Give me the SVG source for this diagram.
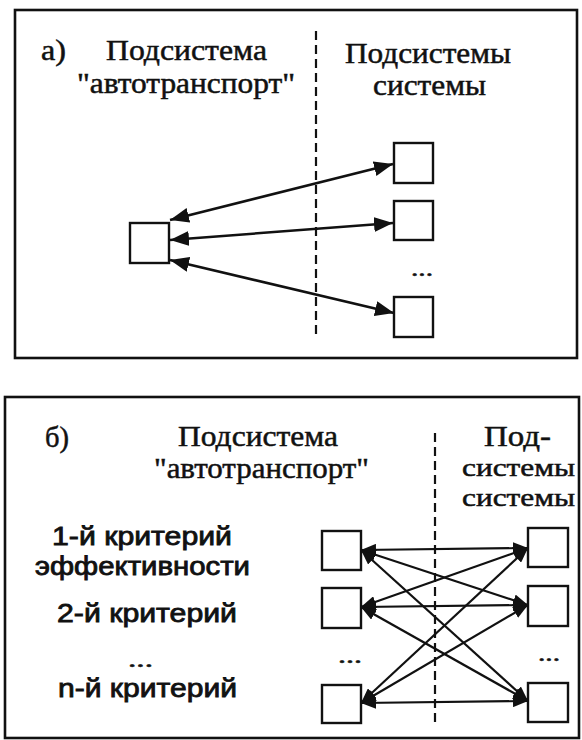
<svg xmlns="http://www.w3.org/2000/svg" width="582" height="740" viewBox="0 0 582 740">
<style>
.frame{fill:none;stroke:#111;stroke-width:2.6}
.box{fill:#fff;stroke:#111;stroke-width:2.4}
.dash{stroke:#111;stroke-width:2.2;stroke-dasharray:9 5;fill:none}
.ser{font-family:"Liberation Serif","DejaVu Serif",serif;font-size:29px;fill:#111;stroke:#111;stroke-width:0.5}
.ser2{font-family:"Liberation Serif","DejaVu Serif",serif;font-size:25px;fill:#111;stroke:#111;stroke-width:0.5}
.sans{font-family:"Liberation Sans","DejaVu Sans",sans-serif;font-size:25px;fill:#111;stroke:#111;stroke-width:0.8}
.a1{stroke:#111;stroke-width:2.5;fill:none;marker-start:url(#hA);marker-end:url(#hA)}
.a2{stroke:#111;stroke-width:2.2;fill:none;marker-start:url(#hB);marker-end:url(#hB)}
.dots{font-family:"Liberation Serif",serif;font-size:24px;fill:#111;stroke:#111;stroke-width:0.6}
</style>
<defs>
<marker id="hA" viewBox="0 0 19 15" refX="19" refY="7.5" markerWidth="19" markerHeight="15" markerUnits="userSpaceOnUse" orient="auto-start-reverse"><path d="M0,0 L19,7.5 L0,15 z" fill="#111"/></marker>
<marker id="hB" viewBox="0 0 15 12" refX="15" refY="6" markerWidth="15" markerHeight="12" markerUnits="userSpaceOnUse" orient="auto-start-reverse"><path d="M0,0 L15,6 L0,12 z" fill="#111"/></marker>
</defs>
<rect width="582" height="740" fill="#fff"/>

<g id="panel-a">
<rect class="frame" x="15" y="10" width="562" height="348"/>
<line class="dash" x1="316" y1="31" x2="316" y2="336"/>
<text class="ser" x="41" y="60" textLength="25" lengthAdjust="spacingAndGlyphs">а)</text>
<text class="ser" x="106" y="60" textLength="161" lengthAdjust="spacingAndGlyphs">Подсистема</text>
<text class="ser" x="77" y="93" textLength="218" lengthAdjust="spacingAndGlyphs">"автотранспорт"</text>
<text class="ser" x="345" y="63" textLength="166" lengthAdjust="spacingAndGlyphs">Подсистемы</text>
<text class="ser" x="373" y="95" textLength="113" lengthAdjust="spacingAndGlyphs">системы</text>
</g>

<g id="a-left"><rect class="box" x="130" y="223" width="39" height="40"/></g>
<g id="a-right1"><rect class="box" x="394" y="143" width="39" height="40"/></g>
<g id="a-right2"><rect class="box" x="394" y="201" width="39" height="39"/></g>
<g id="a-right3"><rect class="box" x="394" y="297" width="39" height="40"/></g>
<text class="dots" x="411" y="276" textLength="22" lengthAdjust="spacingAndGlyphs">...</text>

<g id="a-connectors">
<line class="a1" x1="170" y1="220" x2="393" y2="164"/>
<line class="a1" x1="170" y1="240" x2="393" y2="223"/>
<line class="a1" x1="170" y1="260" x2="394" y2="313"/>
</g>

<g id="panel-b">
<rect class="frame" x="5" y="397" width="574" height="341"/>
<line class="dash" x1="435" y1="433" x2="435" y2="723"/>
<text class="ser" x="45" y="447" textLength="24" lengthAdjust="spacingAndGlyphs">б)</text>
<text class="ser" x="178" y="446" textLength="160" lengthAdjust="spacingAndGlyphs">Подсистема</text>
<text class="ser" x="154" y="478" textLength="215" lengthAdjust="spacingAndGlyphs">"автотранспорт"</text>
<text class="ser" x="484" y="446" textLength="67" lengthAdjust="spacingAndGlyphs">Под-</text>
<text class="ser2" x="462" y="476" textLength="113" lengthAdjust="spacingAndGlyphs">системы</text>
<text class="ser2" x="462" y="506" textLength="113" lengthAdjust="spacingAndGlyphs">системы</text>
<text class="sans" x="52" y="545" textLength="180" lengthAdjust="spacingAndGlyphs">1-й критерий</text>
<text class="sans" x="35" y="575" textLength="215" lengthAdjust="spacingAndGlyphs">эффективности</text>
<text class="sans" x="57" y="622" textLength="180" lengthAdjust="spacingAndGlyphs">2-й критерий</text>
<text class="dots" x="128" y="667" textLength="25" lengthAdjust="spacingAndGlyphs">...</text>
<text class="sans" x="58" y="697" textLength="179" lengthAdjust="spacingAndGlyphs">n-й критерий</text>
</g>

<g id="b-left1"><rect class="box" x="322" y="531" width="39" height="39"/></g>
<g id="b-left2"><rect class="box" x="322" y="588" width="39" height="40"/></g>
<g id="b-left3"><rect class="box" x="322" y="685" width="39" height="38"/></g>
<g id="b-right1"><rect class="box" x="528" y="528" width="40" height="39"/></g>
<g id="b-right2"><rect class="box" x="528" y="586" width="40" height="40"/></g>
<g id="b-right3"><rect class="box" x="528" y="683" width="40" height="39"/></g>
<text class="dots" x="338" y="663" textLength="24" lengthAdjust="spacingAndGlyphs">...</text>
<text class="dots" x="538" y="661" textLength="22" lengthAdjust="spacingAndGlyphs">...</text>

<g id="b-connectors">
<line class="a2" x1="361" y1="550" x2="528" y2="548"/>
<line class="a2" x1="361" y1="550" x2="528" y2="605"/>
<line class="a2" x1="361" y1="550" x2="528" y2="701"/>
<line class="a2" x1="361" y1="607" x2="528" y2="548"/>
<line class="a2" x1="361" y1="607" x2="528" y2="605"/>
<line class="a2" x1="361" y1="607" x2="528" y2="701"/>
<line class="a2" x1="361" y1="703" x2="528" y2="548"/>
<line class="a2" x1="361" y1="703" x2="528" y2="605"/>
<line class="a2" x1="361" y1="703" x2="528" y2="701"/>
</g>
</svg>
